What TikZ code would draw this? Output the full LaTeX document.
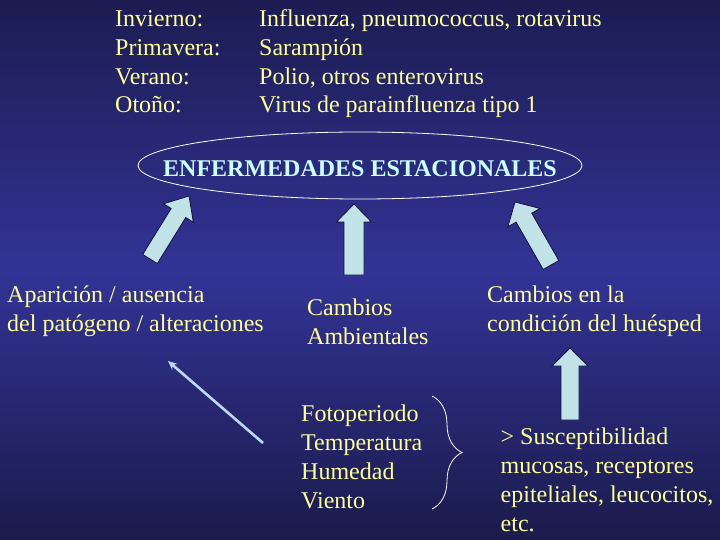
\documentclass[tikz,border=0pt]{standalone}
\usepackage{fontspec}
\setmainfont{Liberation Serif}
\usetikzlibrary{calc,decorations.pathreplacing,arrows.meta}

\definecolor{bgtop}{RGB}{28,28,82}
\definecolor{bgmid}{RGB}{51,51,150}
\definecolor{bgbot}{RGB}{27,27,76}
\definecolor{txtyellow}{RGB}{255,255,153}
\definecolor{titlecyan}{RGB}{204,255,255}
\definecolor{arrowfill}{RGB}{193,227,232}
\definecolor{arrowline}{RGB}{16,16,60}
\definecolor{thinblue}{RGB}{190,215,245}

% block arrow: tail, tip, half shaft, half head, head length
\newcommand{\fatarrow}[5]{%
  \coordinate (hb) at ($(#2)!#5!(#1)$);
  \draw[fatarrow] ($(#1)!#3!90:(#2)$) -- ($(hb)!#3!90:(#2)$) -- ($(hb)!#4!90:(#2)$)
    -- (#2) -- ($(hb)!#4!-90:(#2)$) -- ($(hb)!#3!-90:(#2)$) -- ($(#1)!#3!-90:(#2)$) -- cycle;
}

\begin{document}
\begin{tikzpicture}[x=1pt,y=-1pt,
    txt/.style={font=\fontsize{24}{28.7}\selectfont, text=txtyellow, inner sep=0pt, align=left},
    fatarrow/.style={fill=arrowfill, draw=arrowline, line width=0.8pt, line join=miter}]
        \fill[top color=bgtop, bottom color=bgbot, middle color=bgmid] (0,0) rectangle (720,540);
        \useasboundingbox (0,0) rectangle (720,540);

        % seasons (anchored at the baseline of the last line)
        \node[txt, anchor=base west] (season) at (115,113) {Invierno:\\Primavera:\\Verano:\\Otoño:};
        \node[txt, anchor=base west] (agent) at (259,113)
            {Influenza, pneumococcus, rotavirus\\Sarampión\\Polio, otros enterovirus\\Virus de parainfluenza tipo 1};

        \node[inner sep=0pt, text=titlecyan, text height=22pt, text depth=0pt,
            font=\fontsize{24}{28.7}\selectfont\bfseries] (enf) at (360,165.5) {ENFERMEDADES ESTACIONALES};
        \draw[white, line width=0.8pt] (enf.center) ellipse [x radius=222, y radius=33.5];

        \node[txt, anchor=base west] (apar) at (7,331) {Aparición / ausencia\\del patógeno / alteraciones};
        \node[txt, anchor=base west] (amb) at (307,344) {Cambios\\Ambientales};
        \node[txt, anchor=base west] (hues) at (487,331) {Cambios en la\\condición del huésped};

        \node[txt, anchor=base west] (clima) at (301,508) {Fotoperiodo\\Temperatura\\Humedad\\Viento};
        \node[txt, anchor=base west] (susc) at (500.5,531)
            {> Susceptibilidad\\mucosas, receptores\\epiteliales, leucocitos,\\etc.};

        % big arrows
        \coordinate (aparTail) at (150,259);
        \coordinate (aparTip) at (189,196);
        \coordinate (ambTail) at (354,275);
        \coordinate (ambTip) at (354,204);
        \coordinate (huesTail) at (551,265);
        \coordinate (huesTip) at (515,202);
        \coordinate (suscTail) at (570,420);
        \coordinate (suscTip) at (570,348);
        \fatarrow{aparTail}{aparTip}{8.6pt}{17.5pt}{20pt}
        \fatarrow{ambTail}{ambTip}{10pt}{17.5pt}{18pt}
        \fatarrow{huesTail}{huesTip}{9pt}{18.5pt}{18pt}
        \fatarrow{suscTail}{suscTip}{9pt}{18pt}{18pt}

        % thin arrow and brace
        \coordinate (climaOut) at (263,443);
        \coordinate (aparIn) at (168,361);
        \draw[thinblue, line width=2.6pt, -{Stealth[length=9pt,width=8pt]}] (climaOut) -- (aparIn);

        \coordinate (braceTop) at (432,396);
        \coordinate (braceBot) at (432,509);
        \draw[white, line width=0.8pt, decorate, decoration={brace, amplitude=30pt}] (braceTop) -- (braceBot);

    \end{tikzpicture}
\end{document}
